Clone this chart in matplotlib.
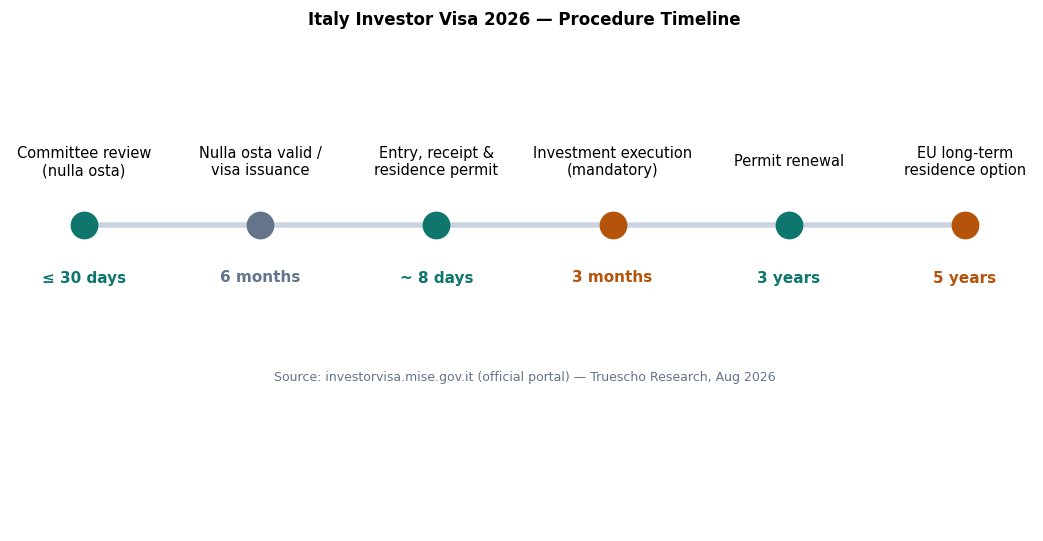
import matplotlib
matplotlib.use("Agg")
import matplotlib.pyplot as plt
plt.rcParams['font.family'] = ['DejaVu Sans']

steps = ["Committee review\n(nulla osta)", "Nulla osta valid /\nvisa issuance",
         "Entry, receipt &\nresidence permit", "Investment execution\n(mandatory)",
         "Permit renewal", "EU long-term\nresidence option"]
durations = ["≤ 30 days", "6 months", "~ 8 days", "3 months", "3 years", "5 years"]
kinds = ["teal", "gray", "teal", "orange", "teal", "orange"]
palette = {"teal": "#0f766e", "gray": "#64748b", "orange": "#b45309"}

fig = plt.figure(figsize=(10.43, 5.41), dpi=100)
ax = fig.add_axes([0, 0, 1, 1])
ax.set_xlim(-84/176.2, (1043-84)/176.2)
ax.set_ylim(541, 0)
ax.axis("off")

xs = list(range(len(steps)))
ax.plot(xs, [225]*len(xs), color="#cbd5e1", lw=4, zorder=1, solid_capstyle="butt")
for i, (s, d, k) in enumerate(zip(steps, durations, kinds)):
    c = palette[k]
    ax.plot(i, 225, "o", ms=19, color=c, zorder=2)
    ax.text(i, 162, s, ha="center", va="center", fontsize=10.5, color="black", linespacing=1.2)
    ax.text(i, 278, d, ha="center", va="center", fontsize=11, fontweight="bold", color=c)

ax.text(2.5, 20, "Italy Investor Visa 2026 — Procedure Timeline", ha="center", va="center",
        fontsize=12, fontweight="bold")
ax.text(2.5, 378, "Source: investorvisa.mise.gov.it (official portal) — Truescho Research, Aug 2026",
        ha="center", va="center", fontsize=9, color="#64748b")
fig.savefig("out.png", dpi=100)
